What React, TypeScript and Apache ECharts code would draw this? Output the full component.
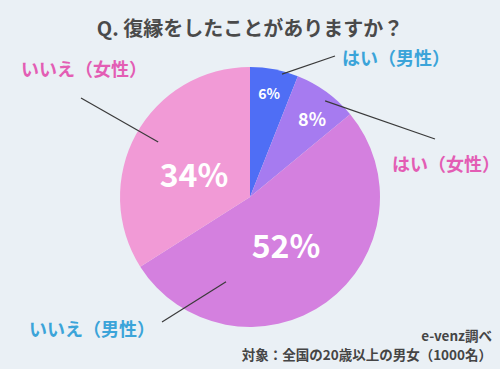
import React, { useEffect, useRef } from "react";
import * as echarts from "echarts";

const categories = ["はい（男性）", "はい（女性）", "いいえ（男性）", "いいえ（女性）"];
const values = [6, 8, 52, 34];
const sliceColors = ["#4f6ef5", "#a67bf0", "#d480df", "#f19ad6"];
const nameColors = ["#3ba4d9", "#e35db4", "#3ba4d9", "#e35db4"];
const pctFontSizes = [14, 18, 32, 32];
const titleText = "Q. 復縁をしたことがありますか？";
const sourceText = "e-venz調べ";
const noteText = "対象：全国の20歳以上の男女（1000名）";

const CX = 250;
const CY = 197;
const R = 130;
// percentage label positions (pixels)
const pctPos: [number, number][] = [
  [269, 93],
  [312, 118],
  [286, 244],
  [194, 173],
];
// outer name label anchors (left edge x, middle y)
const namePos: [number, number][] = [
  [342, 57],
  [392, 163],
  [29, 328],
  [21, 68],
];
// leader line: start given as polar (deg clockwise from top, radius), end in pixels
const lineStart: [number, number][] = [
  [14.6, 127],
  [38, 122],
  [195.8, 88],
  [300.9, 107],
];
const lineEnd: [number, number][] = [
  [335, 56],
  [435, 139],
  [162, 322],
  [81, 98],
];

function polar(deg: number, r: number): [number, number] {
  const a = (deg * Math.PI) / 180;
  return [CX + r * Math.sin(a), CY - r * Math.cos(a)];
}

export default function App() {
  const ref = useRef<HTMLDivElement>(null);
  useEffect(() => {
    document.body.style.margin = "0";
    const chart = echarts.init(ref.current!, null, { renderer: "svg" });
    const font = "'Noto Sans CJK JP', 'Noto Sans', sans-serif";
    const data = categories.map((c, i) => ({
      name: c,
      value: values[i],
      itemStyle: { color: sliceColors[i] },
    }));
    const lines = lineStart.map((s, i) => {
      const [x1, y1] = polar(s[0], s[1]);
      const [x2, y2] = lineEnd[i];
      return {
        type: "line",
        silent: true,
        z: 100,
        shape: { x1, y1, x2, y2 },
        style: { stroke: "#3a3a3a", lineWidth: 1.2 },
      };
    });
    chart.setOption({
      animation: false,
      backgroundColor: "#eaf0f5",
      textStyle: { fontFamily: font },
      title: {
        text: titleText,
        left: "center",
        top: 12,
        textStyle: { fontSize: 20, fontWeight: "bold", color: "#4a4a4a", fontFamily: font },
      },
      graphic: [
        ...lines,
        {
          type: "text",
          right: 8,
          top: 327,
          style: {
            text: sourceText,
            fill: "#454545",
            font: `bold 13.5px ${font}`,
            lineHeight: 16,
          },
        },
        {
          type: "text",
          right: 8,
          top: 346,
          style: {
            text: noteText,
            fill: "#454545",
            font: `bold 13.5px ${font}`,
            lineHeight: 16,
          },
        },
      ],
      series: [
        {
          type: "pie",
          center: [CX, CY],
          radius: [0, R],
          startAngle: 90,
          clockwise: true,
          silent: true,
          data,
          label: {
            show: true,
            position: "inside",
            color: "#ffffff",
            fontWeight: "bold",
            fontFamily: font,
            formatter: (p: any) => `${values[p.dataIndex]}%`,
          },
          labelLine: { show: false },
          labelLayout: (p: any) => ({
            x: pctPos[p.dataIndex][0],
            y: pctPos[p.dataIndex][1],
            align: "center",
            verticalAlign: "middle",
            fontSize: pctFontSizes[p.dataIndex],
          }),
        },
        {
          type: "pie",
          center: [CX, CY],
          radius: [0, R],
          startAngle: 90,
          clockwise: true,
          silent: true,
          z: 5,
          data: categories.map((c, i) => ({
            name: c,
            value: values[i],
            itemStyle: { color: "rgba(0,0,0,0)" },
            label: { color: nameColors[i] },
          })),
          label: {
            show: true,
            position: "outside",
            fontSize: 18,
            fontWeight: "bold",
            fontFamily: font,
            overflow: "none",
            width: 200,
            formatter: "{b}",
          },
          labelLine: { show: false },
          labelLayout: (p: any) => ({
            x: namePos[p.dataIndex][0],
            y: namePos[p.dataIndex][1],
            align: "left",
            verticalAlign: "middle",
          }),
        },
      ],
    });
    return () => chart.dispose();
  }, []);
  return <div ref={ref} style={{ width: 500, height: 369 }} />;
}
